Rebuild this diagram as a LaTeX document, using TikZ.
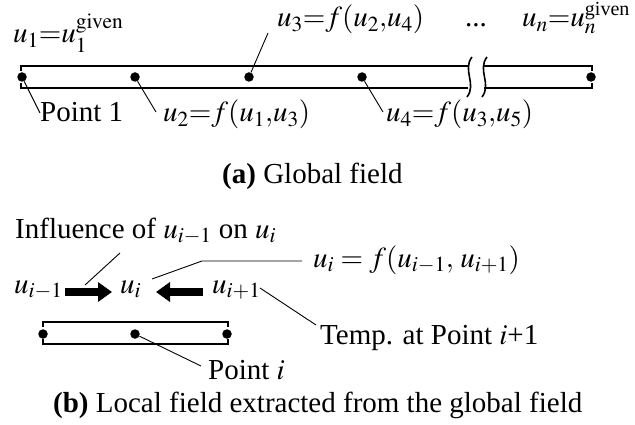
\documentclass[tikz,border=0pt]{standalone}
\usepackage{mathptmx}
\usepackage{fontspec}
\setmainfont{Liberation Serif}
\usetikzlibrary{arrows.meta}
\begin{document}
\begin{tikzpicture}[x=1pt,y=-1pt,
  font=\fontsize{29}{34}\selectfont,
  barline/.style={line width=2pt},
  waveline/.style={line width=1.6pt},
  leader/.style={line width=0.9pt},
  dotnode/.style={circle,fill=black,inner sep=0pt,minimum size=9.5pt},
  lbl/.style={inner sep=0pt,anchor=base west},
  bigarrow/.style={line width=8pt,-{Triangle[length=14pt,width=19pt]}}]
\useasboundingbox (0,0) rectangle (635,425);
% ---------- (a) global field ----------
\draw[barline] (21,71) -- (21,66) -- (468,66);
\draw[barline] (21,83) -- (21,88) -- (468,88);
\draw[barline] (484,66) -- (592,66) -- (592,71);
\draw[barline] (484,88) -- (592,88) -- (592,83);
\draw[waveline] (472,57) .. controls (462,70) and (477,84) .. (467,97);
\draw[waveline] (487,57) .. controls (477,70) and (492,84) .. (482,97);
\node[dotnode] (p1) at (22,77) {};
\node[dotnode] (p2) at (135,77) {};
\node[dotnode] (p3) at (249,77) {};
\node[dotnode] (p4) at (362,77) {};
\node[dotnode] (pn) at (591,77) {};
\node[lbl] (tu1) at (13,43) {$u_1{=}u_1^{\mathrm{given}}$};
\node[lbl] (tu3) at (277,27) {$u_3{=}f(u_2{,}u_4)$};
\node[lbl] (tdots) at (465,27) {...};
\node[lbl] (tun) at (522,27) {$u_n{=}u\rlap{\raisebox{-2pt}{$_n$}}$\raisebox{11.5pt}{\fontsize{20}{20}\selectfont given}};
\node[lbl] (tp1) at (40,122) {Point 1};
\node[lbl] (tu2) at (163,122) {$u_2{=}f(u_1{,}u_3)$};
\node[lbl] (tu4) at (386,122) {$u_4{=}f(u_3{,}u_5)$};
\coordinate (e1) at (40,113);
\coordinate (e2) at (156,112);
\coordinate (e3) at (268,33);
\coordinate (e4) at (383,112);
\draw[leader] (p1) -- (e1);
\draw[leader] (p2) -- (e2);
\draw[leader] (p3) -- (e3);
\draw[leader] (p4) -- (e4);
\node[lbl] (capa) at (222,184) {\textbf{(a)} Global field};
% ---------- (b) local field ----------
\node[lbl] (tinfl) at (15,238) {Influence of $u_{i-1}$ on $u_i$};
\node[lbl] (tueq) at (313,267) {$u_i = f(u_{i-1},\, u_{i+1})$};
\node[lbl] (tuim) at (14,293) {$u_{i-1}$};
\node[lbl] (tui) at (120,293) {$u_i$};
\node[lbl] (tuip) at (212,293) {$u_{i+1}$};
\coordinate (a1s) at (65,292);
\coordinate (a1e) at (112,292);
\coordinate (a2s) at (203,292);
\coordinate (a2e) at (156,292);
\draw[bigarrow] (a1s) -- (a1e);
\draw[bigarrow] (a2s) -- (a2e);
\coordinate (inflA) at (120,253);
\coordinate (inflB) at (85,285);
\draw[leader] (inflA) -- (inflB);
\coordinate (eqA) at (302,261);
\coordinate (eqB) at (202,261);
\coordinate (eqC) at (152,279);
\draw[leader] (eqA) -- (eqB) -- (eqC);
\draw[barline] (43,327) -- (43,322) -- (228,322) -- (228,327);
\draw[barline] (43,339) -- (43,344) -- (228,344) -- (228,339);
\node[dotnode] (q1) at (43,334) {};
\node[dotnode] (q2) at (135,334) {};
\node[dotnode] (q3) at (227,334) {};
\node[lbl] (ttemp) at (320,344) {Temp. at Point $i$+1};
\node[lbl] (tpi) at (208,379) {Point $i$};
\coordinate (tA) at (260,288);
\coordinate (tB) at (316,325);
\draw[leader] (tA) -- (tB);
\coordinate (piB) at (201,366);
\draw[leader] (q2) -- (piB);
\node[lbl] (capb) at (53,412) {\textbf{(b)} Local field extracted from the global field};
\end{tikzpicture}
\end{document}
